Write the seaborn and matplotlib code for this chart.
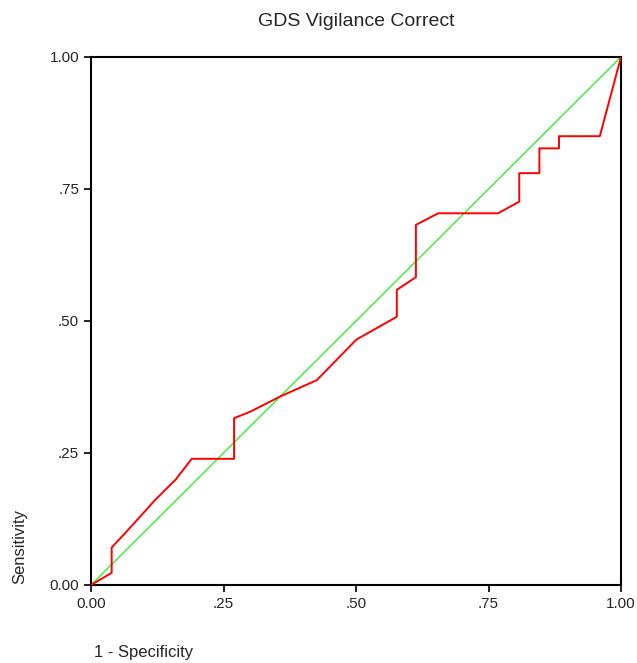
import matplotlib
matplotlib.use("Agg")
import matplotlib.pyplot as plt
import seaborn as sns
import pandas as pd

# ROC curve points
fpr = [0.0, 0.039, 0.039, 0.066, 0.12, 0.16, 0.19, 0.27, 0.27, 0.30, 0.357,
       0.426, 0.501, 0.577, 0.577, 0.613, 0.613, 0.655, 0.768, 0.808, 0.808,
       0.846, 0.846, 0.883, 0.883, 0.96, 1.0]
tpr = [0.0, 0.023, 0.071, 0.10, 0.16, 0.20, 0.239, 0.239, 0.316, 0.328, 0.357,
       0.388, 0.465, 0.508, 0.559, 0.583, 0.682, 0.704, 0.704, 0.726, 0.78,
       0.78, 0.827, 0.827, 0.85, 0.85, 1.0]
ref_line = [0.0, 1.0]

tick_vals = [0.0, 0.25, 0.5, 0.75, 1.0]
tick_labels = ["0.00", ".25", ".50", ".75", "1.00"]

sns.set_style("white")
plt.rcParams['font.family'] = ['Liberation Sans', 'DejaVu Sans']

fig = plt.figure(figsize=(6.37, 6.63), dpi=100)
ax = fig.add_axes([91 / 637, 78 / 663, 530 / 637, 528 / 663])

roc = pd.DataFrame({"fpr": fpr, "tpr": tpr})
# estimator=None keeps the vertical steps instead of averaging repeated x
sns.lineplot(data=roc, x="fpr", y="tpr", sort=False, estimator=None,
             color="#ff0000", linewidth=1.4, ax=ax, zorder=3)
sns.lineplot(x=ref_line, y=ref_line, estimator=None, color="#33ee33",
             linewidth=1.0, ax=ax, zorder=2)

ax.set_xlim(0, 1)
ax.set_ylim(0, 1)
ax.set_xticks(tick_vals)
ax.set_xticklabels(tick_labels)
ax.set_yticks(tick_vals)
ax.set_yticklabels(tick_labels)
ax.tick_params(direction="out", length=5, width=1.2, color="black",
               labelsize=11, bottom=True, left=True)

for sp in ax.spines.values():
    sp.set_color("black")
    sp.set_linewidth(1.5)

ax.set_title("GDS Vigilance Correct", fontsize=14, pad=22)
ax.set_xlabel("1 - Specificity", fontsize=12)
ax.xaxis.set_label_coords(0.099, -0.114)
ax.set_ylabel("Sensitivity", fontsize=12)
ax.yaxis.set_label_coords(-0.121, 0.072)

fig.savefig("out.png", dpi=100, facecolor="white")
